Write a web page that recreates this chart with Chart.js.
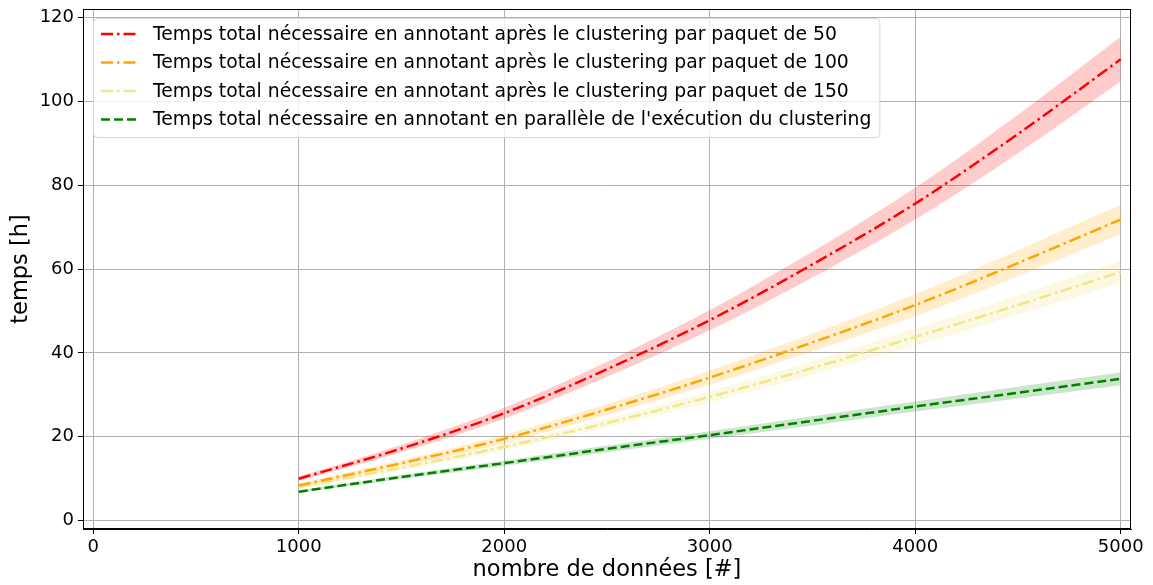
<!DOCTYPE html>
<html>
<head>
<meta charset="utf-8">
<script src="https://cdn.jsdelivr.net/npm/chart.js@4"></script>
<style>
  html, body { margin: 0; padding: 0; background: #fff; }
</style>
</head>
<body>
<canvas id="myChart" width="1153" height="585"></canvas>
<script>
// nombre de données
const xValues = [1000, 1500, 2000, 2500, 3000, 3500, 4000, 4500, 5000];

// paquet de 50
const red50 = [10.0, 17.2, 25.6, 36.1, 47.8, 61.1, 75.6, 92.2, 110.0];
const red50Low = [9.5, 16.3, 24.3, 34.3, 45.4, 58.0, 71.8, 87.6, 104.7];
const red50High = [10.5, 18.1, 26.9, 37.9, 50.2, 64.2, 79.4, 96.8, 115.4];

// paquet de 100
const orange100 = [8.4, 13.7, 19.5, 26.5, 34.1, 42.5, 51.4, 61.4, 71.8];
const orange100Low = [8.0, 13.0, 18.5, 25.2, 32.4, 40.4, 48.8, 58.3, 68.3];
const orange100High = [8.8, 14.4, 20.5, 27.8, 35.8, 44.6, 54.0, 64.5, 75.3];

// paquet de 150
const khaki150 = [8.0, 12.6, 17.6, 23.3, 29.5, 36.4, 43.8, 51.4, 59.3];
const khaki150Low = [7.6, 12.0, 16.8, 22.3, 28.2, 34.8, 41.8, 49.1, 56.6];
const khaki150High = [8.4, 13.2, 18.4, 24.3, 30.8, 38.0, 45.8, 53.7, 62.0];

// en parallèle
const green = [6.9, 10.4, 13.7, 17.1, 20.4, 23.8, 27.2, 30.5, 33.8];
const greenLow = [6.6, 9.9, 13.1, 16.3, 19.5, 22.7, 26.0, 29.1, 32.3];
const greenHigh = [7.2, 10.9, 14.3, 17.9, 21.3, 24.9, 28.4, 31.9, 35.3];

const seriesLabels = [
  'Temps total nécessaire en annotant après le clustering par paquet de 50',
  'Temps total nécessaire en annotant après le clustering par paquet de 100',
  'Temps total nécessaire en annotant après le clustering par paquet de 150',
  "Temps total nécessaire en annotant en parallèle de l'exécution du clustering",
];

const xTicks = [0, 1000, 2000, 3000, 4000, 5000];
const yTicks = [0, 20, 40, 60, 80, 100, 120];

const FONT = "'DejaVu Sans', sans-serif";

const series = [
  { label: seriesLabels[0], mid: red50, low: red50Low, high: red50High,
    color: 'rgb(255,0,0)', band: 'rgba(255,0,0,0.2)', dash: [12, 4, 2.5, 4] },
  { label: seriesLabels[1], mid: orange100, low: orange100Low, high: orange100High,
    color: 'rgb(255,165,0)', band: 'rgba(255,165,0,0.2)', dash: [12, 4, 2.5, 4] },
  { label: seriesLabels[2], mid: khaki150, low: khaki150Low, high: khaki150High,
    color: 'rgb(240,230,140)', band: 'rgba(240,230,140,0.25)', dash: [12, 4, 2.5, 4] },
  { label: seriesLabels[3], mid: green, low: greenLow, high: greenHigh,
    color: 'rgb(0,128,0)', band: 'rgba(0,128,0,0.2)', dash: [9, 4] },
];

const pts = (ys) => xValues.map((x, i) => ({ x, y: ys[i] }));

const datasets = [];
series.forEach((s) => {
  datasets.push({
    data: pts(s.low), borderWidth: 0, pointRadius: 0, fill: false,
    cubicInterpolationMode: 'monotone', order: 2,
  });
  datasets.push({
    data: pts(s.high), borderWidth: 0, pointRadius: 0, fill: '-1',
    backgroundColor: s.band, cubicInterpolationMode: 'monotone', order: 2,
  });
});
series.forEach((s) => {
  datasets.push({
    label: s.label, data: pts(s.mid), borderColor: s.color, borderDash: s.dash,
    borderWidth: 2.5, pointRadius: 0, fill: false,
    cubicInterpolationMode: 'monotone', order: 0,
  });
});

// cadre + légende dans la zone du graphique
const frameAndLegend = {
  id: 'frameAndLegend',
  afterDatasetsDraw(chart) {
    const { ctx, chartArea: a } = chart;
    ctx.save();
    ctx.strokeStyle = '#000';
    ctx.lineWidth = 1;
    ctx.strokeRect(a.left + 0.5, a.top + 0.5, a.right - a.left - 1, a.bottom - a.top - 1);

    ctx.font = '18.8px ' + FONT;
    const textW = Math.max(...series.map((s) => ctx.measureText(s.label).width));
    const bx = a.left + 10, by = a.top + 9;
    const rowH = 28.5;
    const bw = 60 + textW + 8, bh = rowH * series.length + 5;
    ctx.beginPath();
    ctx.roundRect(bx + 0.5, by + 0.5, bw, bh, 4);
    ctx.fillStyle = 'rgba(255,255,255,0.8)';
    ctx.fill();
    ctx.strokeStyle = '#d6d6d6';
    ctx.stroke();

    series.forEach((s, i) => {
      const cy = by + 16 + i * rowH;
      ctx.beginPath();
      ctx.setLineDash(s.dash);
      ctx.strokeStyle = s.color;
      ctx.lineWidth = 2.5;
      ctx.moveTo(bx + 8, cy);
      ctx.lineTo(bx + 46, cy);
      ctx.stroke();
      ctx.setLineDash([]);
      ctx.fillStyle = '#000';
      ctx.textBaseline = 'middle';
      ctx.textAlign = 'left';
      ctx.fillText(s.label, bx + 60, cy + 1);
    });
    ctx.restore();
  },
};

const keepTicks = (list) => (scale) => {
  scale.ticks = list.map((v) => ({ value: v }));
};

new Chart(document.getElementById('myChart').getContext('2d'), {
  type: 'line',
  data: { datasets },
  options: {
    responsive: false,
    animation: false,
    layout: { autoPadding: false, padding: { top: 9, right: 22, left: 0, bottom: 0 } },
    plugins: { legend: { display: false }, tooltip: { enabled: false } },
    scales: {
      x: {
        type: 'linear',
        min: -50,
        max: 5050,
        afterBuildTicks: keepTicks(xTicks),
        afterFit: (scale) => { scale.height = 56; },
        grid: { color: '#b0b0b0', lineWidth: 1, tickColor: '#000', tickLength: 5 },
        border: { display: true, color: '#000' },
        ticks: { color: '#000', font: { family: FONT, size: 18 }, padding: 3,
          maxRotation: 0, callback: (v) => String(v) },
        title: { display: true, text: 'nombre de données [#]', color: '#000',
          font: { family: FONT, size: 22.5 }, padding: { top: 0, bottom: 1 } },
      },
      y: {
        min: -2,
        max: 122,
        afterBuildTicks: keepTicks(yTicks),
        afterFit: (scale) => { scale.width = 83; },
        grid: { color: '#b0b0b0', lineWidth: 1, tickColor: '#000', tickLength: 5 },
        border: { display: true, color: '#000' },
        ticks: { color: '#000', font: { family: FONT, size: 18, lineHeight: 0.5 }, padding: 4,
          callback: (v) => String(v) },
        title: { display: true, text: 'temps [h]', color: '#000',
          font: { family: FONT, size: 22.5 }, padding: { top: 8, bottom: 0 } },
      },
    },
  },
  plugins: [frameAndLegend],
});
</script>
</body>
</html>
